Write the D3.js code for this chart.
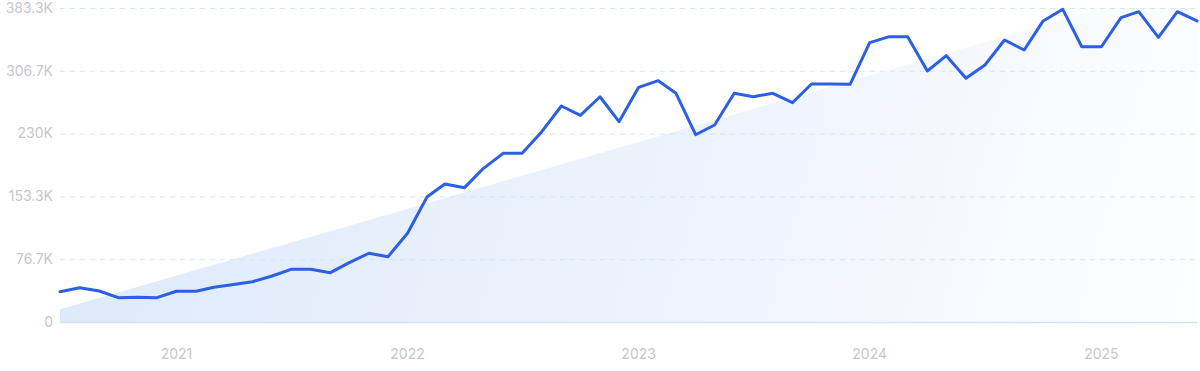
<!DOCTYPE html>
<html>
<head>
<meta charset="utf-8">
<script src="https://cdn.jsdelivr.net/npm/d3@7"></script>
<style>
	body { margin: 0; background: #fff; }
	text { font-family: Inter, "Open Sans", sans-serif; }
</style>
</head>
<body>
<div id="chart"></div>
<script>
// Monthly values, Jul 2020 .. Jun 2025
const startMonth = new Date(2020, 6, 1);
const values = [
	37000, 41900, 37800, 29700, 30100, 29700,
	37500, 37500, 42400, 45800, 49200, 56200, 64300, 64300, 60200, 72400, 83900, 79700,
	108300, 153000, 168500, 164000, 187600, 205900, 205900, 232300, 263700, 252300, 275000, 244500,
	286500, 294600, 279200, 228600, 240500, 279200, 275000, 279200, 267700, 290500, 290500, 290100,
	341000, 348300, 348300, 306400, 325100, 297500, 313700, 344200, 332000, 367500, 381700, 336000,
	336000, 371500, 378800, 347500, 378800, 367500
];
// Trend line, first and last month
const trendValues = [15500, 416600];
const yMax = 383300;
const yTicks = [0, 76700, 153300, 230000, 306700, 383300];
const yTickLabels = ["0", "76.7K", "153.3K", "230K", "306.7K", "383.3K"];
const xTicks = [2021, 2022, 2023, 2024, 2025];

const width = 1200,
			height = 371;
const margin = { top: 8, right: 3, bottom: 49, left: 60 };

const data = values.map((v, i) => ({ date: d3.timeMonth.offset(startMonth, i), value: v }));

const x = d3.scaleTime()
		.domain(d3.extent(data, d => d.date))
		.range([margin.left, width - margin.right]);

const y = d3.scaleLinear()
		.domain([0, yMax])
		.range([height - margin.bottom, margin.top]);

const svg = d3.select("#chart").append("svg")
		.attr("width", width)
		.attr("height", height);

const defs = svg.append("defs");

const grad = defs.append("linearGradient")
		.attr("id", "trend-fill")
		.attr("gradientUnits", "userSpaceOnUse")
		.attr("x1", margin.left).attr("y1", margin.top)
		.attr("x2", width - margin.right).attr("y2", height - margin.bottom);
grad.append("stop").attr("offset", "0%").attr("stop-color", "#dce9fa");
grad.append("stop").attr("offset", "55%").attr("stop-color", "#edf3fc");
grad.append("stop").attr("offset", "100%").attr("stop-color", "#fdfeff");

defs.append("clipPath")
		.attr("id", "plot-clip")
	.append("rect")
		.attr("x", margin.left)
		.attr("y", margin.top)
		.attr("width", width - margin.left - margin.right)
		.attr("height", height - margin.top - margin.bottom);

// Trend area
const trend = [
	{ date: data[0].date, value: trendValues[0] },
	{ date: data[data.length - 1].date, value: trendValues[1] }
];
svg.append("path")
		.datum(trend)
		.attr("clip-path", "url(#plot-clip)")
		.attr("fill", "url(#trend-fill)")
		.attr("d", d3.area()
			.x(d => x(d.date))
			.y0(y(0))
			.y1(d => y(d.value)));

// Gridlines (on top of the area)
svg.append("g")
	.selectAll("line")
	.data(yTicks.slice(1))
	.enter().append("line")
		.attr("x1", margin.left)
		.attr("x2", width - margin.right)
		.attr("y1", d => y(d) + 0.5)
		.attr("y2", d => y(d) + 0.5)
		.attr("stroke", "#d2e6f9")
		.attr("stroke-width", 1)
		.attr("stroke-dasharray", "5,5");

// Baseline
svg.append("line")
		.attr("x1", margin.left)
		.attr("x2", width - margin.right)
		.attr("y1", y(0) + 0.5)
		.attr("y2", y(0) + 0.5)
		.attr("stroke", "#cfe4f8")
		.attr("stroke-width", 1.5);

// Y labels
svg.append("g")
	.selectAll("text")
	.data(yTicks)
	.enter().append("text")
		.attr("x", margin.left - 7)
		.attr("y", d => y(d))
		.attr("dy", "0.35em")
		.attr("text-anchor", "end")
		.attr("fill", "#c6c6ce")
		.style("font-size", "14px")
		.text((d, i) => yTickLabels[i]);

// X labels
svg.append("g")
	.selectAll("text")
	.data(xTicks)
	.enter().append("text")
		.attr("x", d => x(new Date(d, 0, 1)))
		.attr("y", 354)
		.attr("dy", "0.35em")
		.attr("text-anchor", "middle")
		.attr("fill", "#c6c6ce")
		.style("font-size", "14px")
		.text(d => d);

// Line
svg.append("path")
		.datum(data)
		.attr("fill", "none")
		.attr("stroke", "#2c5fe3")
		.attr("stroke-width", 3)
		.attr("stroke-linejoin", "round")
		.attr("stroke-linecap", "round")
		.attr("d", d3.line()
			.x(d => x(d.date))
			.y(d => y(d.value)));
</script>
</body>
</html>
